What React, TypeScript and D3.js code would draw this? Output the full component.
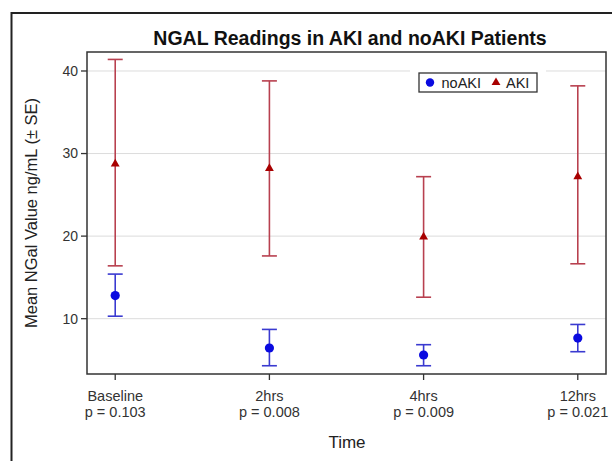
import React from "react";
import * as d3 from "d3";

const width = 612;
const height = 461;
const margin = { top: 52, right: 6, bottom: 87, left: 87 };

// time points and p-values under each tick
const timePoints = ["Baseline", "2hrs", "4hrs", "12hrs"];
const pValues = ["p = 0.103", "p = 0.008", "p = 0.009", "p = 0.021"];

// mean and SE bounds
const noAkiMean = [12.8, 6.45, 5.6, 7.65];
const noAkiLow = [10.3, 4.3, 4.3, 6.0];
const noAkiHigh = [15.4, 8.7, 6.85, 9.3];

const akiMean = [28.75, 28.2, 19.9, 27.2];
const akiLow = [16.4, 17.6, 12.6, 16.65];
const akiHigh = [41.4, 38.8, 27.2, 38.2];

const yTicks = [10, 20, 30, 40];

const font = "'Liberation Sans', Arial, sans-serif";
const akiColor = "#a80000";
const akiBar = "#b8404f";
const noAkiColor = "#0a0ae0";
const noAkiBar = "#3a3ad0";

export default function App() {
  const innerW = width - margin.left - margin.right;
  const innerH = height - margin.top - margin.bottom;

  const x = d3
    .scalePoint()
    .domain(timePoints)
    .range([margin.left, margin.left + innerW])
    .padding(0.183);
  const y = d3
    .scaleLinear()
    .domain([3.3, 42.3])
    .range([margin.top + innerH, margin.top]);

  const triangle = d3.symbol().type(d3.symbolTriangle).size(34)();
  const capW = 15;

  const errorBars = (low, high, color) =>
    timePoints.map((t, i) => {
      const cx = x(t);
      return (
        <g key={t} stroke={color} strokeWidth={1.6}>
          <line x1={cx} x2={cx} y1={y(low[i])} y2={y(high[i])} />
          <line x1={cx - capW / 2} x2={cx + capW / 2} y1={y(low[i])} y2={y(low[i])} />
          <line x1={cx - capW / 2} x2={cx + capW / 2} y1={y(high[i])} y2={y(high[i])} />
        </g>
      );
    });

  const legend = { x: 419, y: 73, w: 118, h: 19 };

  return (
    <svg
      width={width}
      height={height}
      style={{ display: "block", position: "absolute", left: 0, top: 0, background: "#fff" }}
      fontFamily={font}
    >
      {/* outer frame */}
      <rect x={11.5} y={13} width={width} height={height} fill="#fff" stroke="#222" strokeWidth={2} />

      <text x={350} y={45} textAnchor="middle" fontSize={19.5} fontWeight="bold" fill="#111">
        NGAL Readings in AKI and noAKI Patients
      </text>

      {/* grid */}
      {yTicks.map((t) => (
        <line
          key={t}
          x1={margin.left}
          x2={margin.left + innerW}
          y1={y(t)}
          y2={y(t)}
          stroke="#dcdcdc"
          strokeWidth={1}
        />
      ))}

      {/* legend background covers grid */}
      <rect x={legend.x - 9} y={legend.y - 6} width={legend.w + 18} height={legend.h + 12} fill="#fff" />
      <rect
        x={legend.x}
        y={legend.y}
        width={legend.w}
        height={legend.h}
        fill="#fff"
        stroke="#333"
        strokeWidth={1.3}
      />
      <circle cx={430} cy={legend.y + legend.h / 2} r={4.2} fill={noAkiColor} />
      <text x={441.5} y={legend.y + 14.5} fontSize={14.5} fill="#222">noAKI</text>
      <path d={triangle} transform={`translate(496,${legend.y + legend.h / 2})`} fill={akiColor} />
      <text x={506} y={legend.y + 14.5} fontSize={14.5} fill="#222">AKI</text>

      {errorBars(akiLow, akiHigh, akiBar)}
      {errorBars(noAkiLow, noAkiHigh, noAkiBar)}

      {timePoints.map((t, i) => (
        <path key={t} d={triangle} transform={`translate(${x(t)},${y(akiMean[i])})`} fill={akiColor} />
      ))}
      {timePoints.map((t, i) => (
        <circle key={t} cx={x(t)} cy={y(noAkiMean[i])} r={4.6} fill={noAkiColor} />
      ))}

      {/* plot frame */}
      <rect
        x={margin.left}
        y={margin.top}
        width={innerW}
        height={innerH}
        fill="none"
        stroke="#333"
        strokeWidth={1.5}
      />

      {/* y axis */}
      {yTicks.map((t) => (
        <g key={t}>
          <line x1={margin.left - 6} x2={margin.left} y1={y(t)} y2={y(t)} stroke="#333" strokeWidth={1.3} />
          <text x={margin.left - 9} y={y(t)} dy="0.35em" textAnchor="end" fontSize={14} fill="#333">
            {t}
          </text>
        </g>
      ))}
      <text
        transform={`translate(37,${margin.top + innerH / 2}) rotate(-90)`}
        textAnchor="middle"
        fontSize={16.5}
        fill="#222"
      >
        Mean NGal Value ng/mL (± SE)
      </text>

      {/* x axis */}
      {timePoints.map((t, i) => (
        <g key={t}>
          <line
            x1={x(t)}
            x2={x(t)}
            y1={margin.top + innerH}
            y2={margin.top + innerH + 6}
            stroke="#333"
            strokeWidth={1.3}
          />
          <text x={x(t)} y={401} textAnchor="middle" fontSize={14.5} fill="#333">
            {t}
          </text>
          <text x={x(t)} y={417} textAnchor="middle" fontSize={14.5} fill="#333">
            {pValues[i]}
          </text>
        </g>
      ))}
      <text x={347} y={448} textAnchor="middle" fontSize={17} fill="#222">
        Time
      </text>
    </svg>
  );
}
